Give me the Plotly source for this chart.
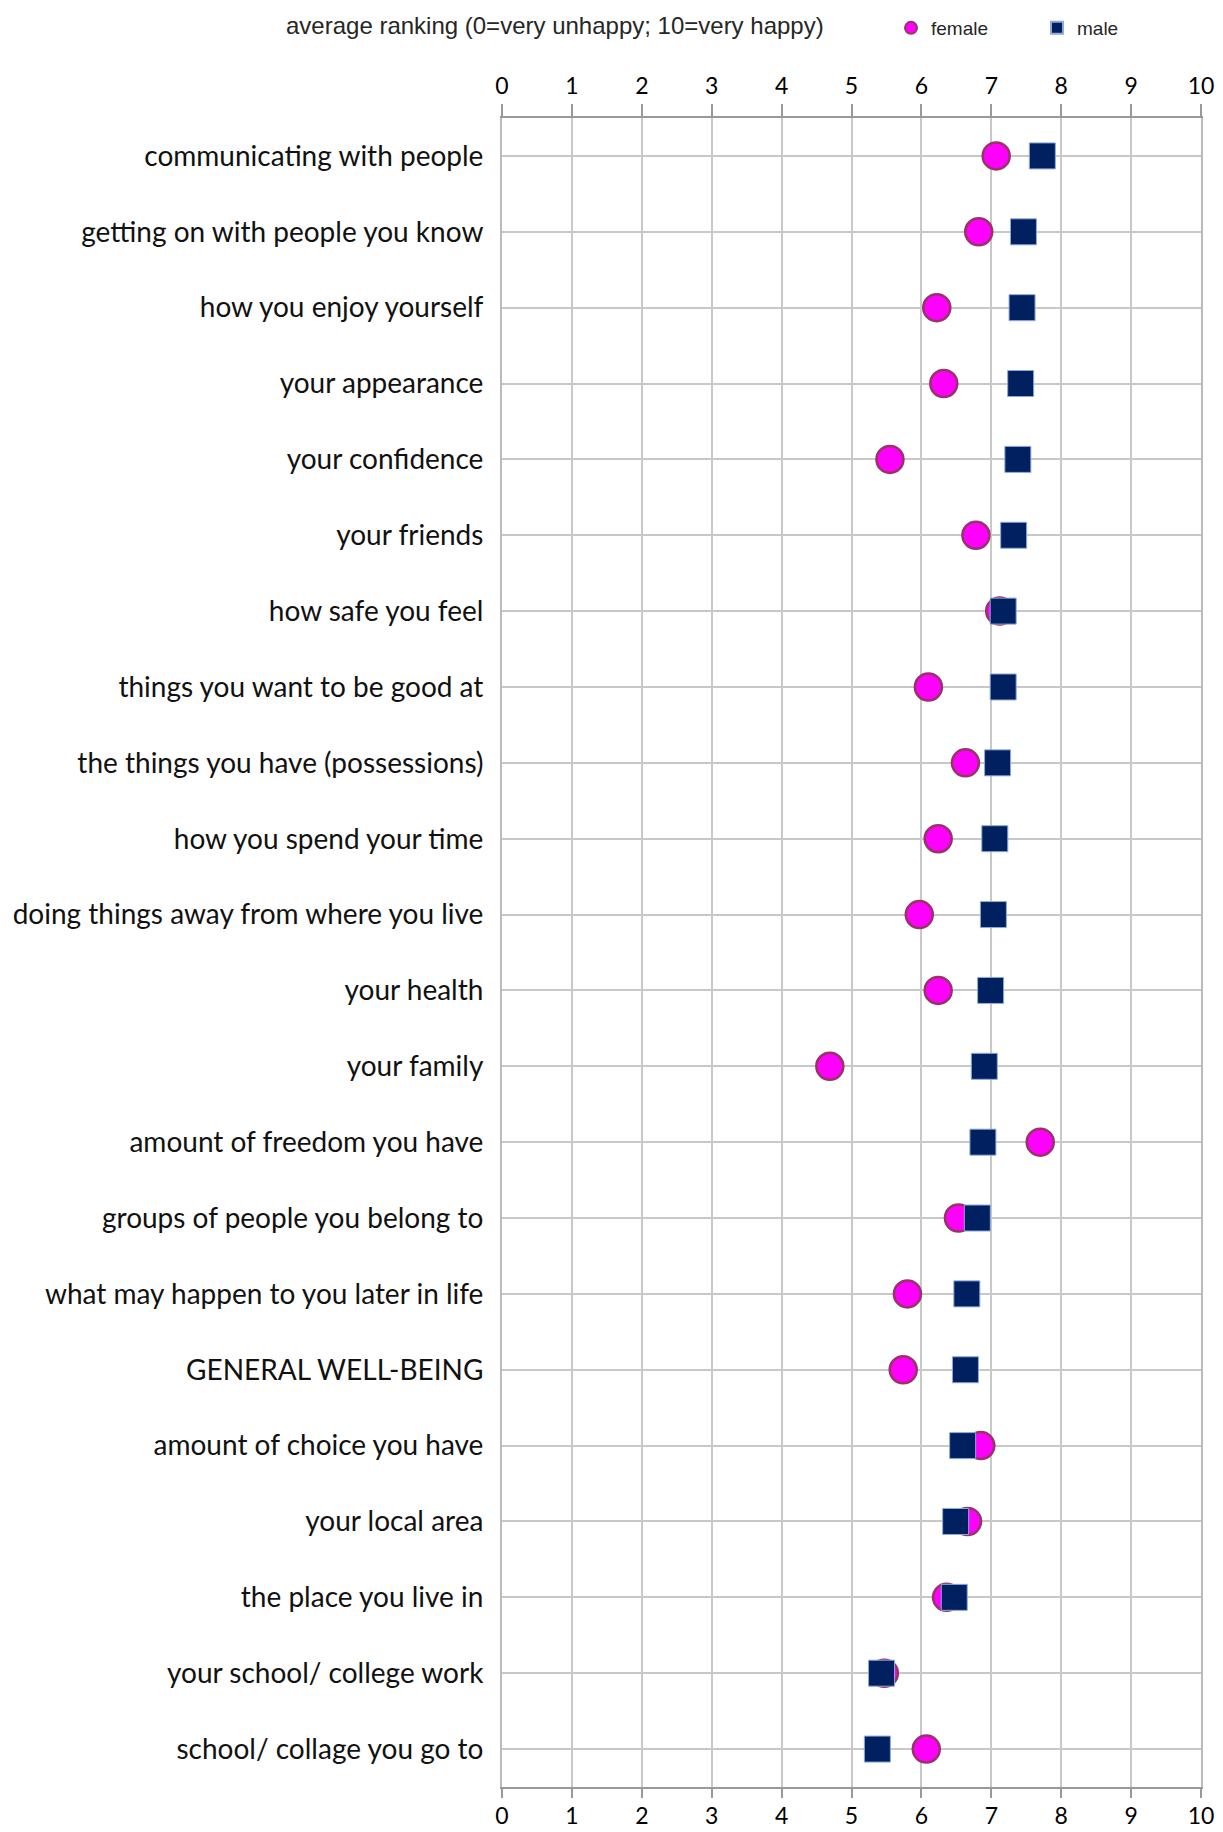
import plotly.graph_objects as go

categories = [
    "communicating with people",
    "getting on with people you know",
    "how you enjoy yourself",
    "your appearance",
    "your confidence",
    "your friends",
    "how safe you feel",
    "things you want to be good at",
    "the things you have (possessions)",
    "how you spend your time",
    "doing things away from where you live",
    "your health",
    "your family",
    "amount of freedom you have",
    "groups of people you belong to",
    "what may happen to you later in life",
    "GENERAL WELL-BEING",
    "amount of choice you have",
    "your local area",
    "the place you live in",
    "your school/ college work",
    "school/ collage you go to",
]

female = [7.07, 6.82, 6.22, 6.32, 5.55, 6.78, 7.12, 6.10, 6.63, 6.24, 5.97,
          6.24, 4.69, 7.70, 6.53, 5.80, 5.74, 6.85, 6.66, 6.36, 5.47, 6.07]
male = [7.73, 7.46, 7.44, 7.42, 7.38, 7.32, 7.17, 7.17, 7.09, 7.05, 7.03,
        6.99, 6.90, 6.88, 6.80, 6.65, 6.63, 6.59, 6.49, 6.47, 5.43, 5.37]

tick_vals = list(range(0, 11))
tick_text = [str(v) for v in tick_vals]

fig = go.Figure()
fig.add_trace(go.Scatter(
    x=female, y=categories, mode="markers", name="female",
    marker=dict(symbol="circle", size=27, color="#FF00FF",
                line=dict(color="#993366", width=2.5)),
    xaxis="x", yaxis="y",
))
fig.add_trace(go.Scatter(
    x=male, y=categories, mode="markers", name="male",
    marker=dict(symbol="square", size=26, color="#002060",
                line=dict(color="#8EA9DB", width=1)),
    xaxis="x2", yaxis="y",
))

axis_common = dict(
    range=[0, 10], tickvals=tick_vals, ticktext=tick_text,
    ticks="outside", tickcolor="#999999", tickwidth=1.5,
    showline=True, linecolor="#999999", linewidth=2,
    tickfont=dict(family="Lato", size=23, color="#000000"),
    zeroline=False, automargin=False,
)

fig.update_layout(
    width=1223, height=1832,
    margin=dict(l=502, r=22, t=118, b=45, autoexpand=False),
    paper_bgcolor="white", plot_bgcolor="white",
    title=dict(text="average ranking (0=very unhappy; 10=very happy)",
               xref="container", yref="container",
               x=286 / 1223, xanchor="left", y=1 - 26 / 1832, yanchor="middle",
               font=dict(family="Liberation Sans, Arial", size=24, color="#262626")),
    xaxis=dict(side="top", showgrid=True, gridcolor="#C8C8C8", gridwidth=2,
               ticklen=12, ticklabelstandoff=1, **axis_common),
    xaxis2=dict(side="bottom", overlaying="x", matches="x", showgrid=False,
                ticklen=9, ticklabelstandoff=-2, **axis_common),
    yaxis=dict(type="category", categoryorder="array", categoryarray=categories,
               range=[len(categories) - 0.5, -0.5],
               showgrid=True, gridcolor="#C8C8C8", gridwidth=2,
               showline=True, linecolor="#BBBBBB", linewidth=2, mirror=True,
               ticks="", ticklabelstandoff=11, automargin=False,
               tickfont=dict(family="Lato", size=28, color="#111111")),
    legend=dict(orientation="h", xref="container", yref="container",
                x=891 / 1223, xanchor="left",
                y=1 - 9 / 1832, yanchor="top",
                font=dict(family="Liberation Sans, Arial", size=19, color="#262626"),
                itemsizing="constant", itemwidth=30, tracegroupgap=0,
                entrywidth=101, entrywidthmode="pixels",
                bgcolor="rgba(0,0,0,0)"),
    showlegend=True,
)

fig.write_html(
    "out.html",
    config={"displayModeBar": False},
    post_script="document.body.style.margin='0px';document.body.style.overflow='hidden';",
)
